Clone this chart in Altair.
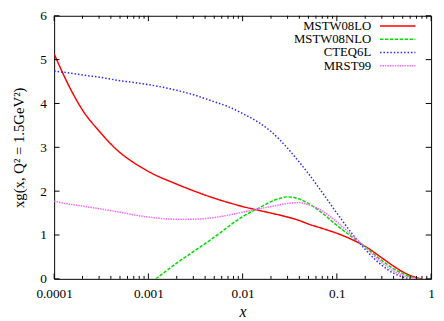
import altair as alt
import pandas as pd

# ---------------- data ----------------
names = ["MSTW08LO", "MSTW08NLO", "CTEQ6L", "MRST99"]
colors = ["#ff0000", "#00dd00", "#2626ff", "#ff66ff"]
dashes = [[1, 0], [3.5, 1.5], [1.5, 2.0], [1.5, 1.0]]

x_lo = [1e-4, 1.5e-4, 2e-4, 3e-4, 5e-4, 7e-4, 1e-3, 2e-3, 3e-3, 5e-3, 0.01, 0.02,
        0.03, 0.04, 0.05, 0.07, 0.1, 0.15, 0.2, 0.3, 0.4, 0.5, 0.6, 0.7, 0.8]
y_lo = [5.13, 4.32, 3.85, 3.37, 2.88, 2.65, 2.45, 2.16, 2.01, 1.84, 1.65, 1.50,
        1.41, 1.33, 1.25, 1.15, 1.04, 0.88, 0.74, 0.48, 0.29, 0.16, 0.08, 0.03, 0.0]

x_nlo = [0.0012, 0.002, 0.003, 0.005, 0.01, 0.015, 0.02, 0.025, 0.03, 0.04, 0.05, 0.07,
         0.1, 0.15, 0.2, 0.3, 0.4, 0.5, 0.6, 0.7, 0.75]
y_nlo = [0.0, 0.36, 0.62, 0.95, 1.42, 1.62, 1.76, 1.84, 1.87, 1.82, 1.72, 1.50,
         1.22, 0.93, 0.73, 0.42, 0.23, 0.12, 0.05, 0.01, 0.0]

x_cteq = [1e-4, 1.5e-4, 2e-4, 3e-4, 5e-4, 7e-4, 1e-3, 2e-3, 3e-3, 5e-3, 0.007, 0.01,
          0.015, 0.02, 0.03, 0.04, 0.05, 0.07, 0.1, 0.15, 0.2, 0.3, 0.4, 0.5, 0.6]
y_cteq = [4.74, 4.69, 4.65, 4.60, 4.52, 4.48, 4.43, 4.30, 4.20, 4.04, 3.93, 3.77,
          3.56, 3.36, 2.98, 2.66, 2.40, 1.97, 1.50, 0.99, 0.67, 0.31, 0.13, 0.04, 0.0]

x_mrst = [1e-4, 1.5e-4, 2e-4, 3e-4, 5e-4, 7e-4, 1e-3, 2e-3, 3e-3, 5e-3, 0.01, 0.02,
          0.03, 0.04, 0.05, 0.07, 0.1, 0.15, 0.2, 0.3, 0.4, 0.5, 0.6, 0.7]
y_mrst = [1.77, 1.70, 1.66, 1.60, 1.52, 1.46, 1.41, 1.36, 1.36, 1.40, 1.52, 1.65,
          1.72, 1.74, 1.69, 1.55, 1.30, 0.96, 0.72, 0.37, 0.18, 0.08, 0.03, 0.0]

x_ticks = [1e-4, 1e-3, 1e-2, 1e-1, 1.0]
x_minor = [m * d for d in [1e-4, 1e-3, 1e-2, 1e-1] for m in range(2, 10)]
y_ticks = [0, 1, 2, 3, 4, 5, 6]

series = [(names[0], x_lo, y_lo), (names[1], x_nlo, y_nlo),
          (names[2], x_cteq, y_cteq), (names[3], x_mrst, y_mrst)]
rows = []
for name, xs, ys in series:
    for i, (a, b) in enumerate(zip(xs, ys)):
        rows.append({"series": name, "x": a, "y": b, "order": i})
df = pd.DataFrame(rows)

# ---------------- chart ----------------
W, H = 384, 268
FONT = "'Liberation Serif', 'Times New Roman', 'DejaVu Serif', serif"
xscale = alt.Scale(type="log", domain=[1e-4, 1], nice=False)
yscale = alt.Scale(domain=[0, 6], nice=False)

xaxis = alt.Axis(values=x_ticks, format="~g", title="x", grid=False, ticks=False,
                 tickSize=0, domain=False, labelPadding=8, labelFontSize=13.5,
                 labelFont=FONT, labelColor="black", titleFont=FONT,
                 titleFontSize=16, titleFontStyle="italic", titleFontWeight="normal",
                 titleColor="black", titlePadding=4, labelFlush=False)
yaxis = alt.Axis(values=y_ticks, title="xg(x, Q² = 1.5GeV²)", grid=False, ticks=False,
                 tickSize=0, domain=False, labelPadding=8, labelFontSize=13.5,
                 labelFont=FONT, labelColor="black", titleFont=FONT,
                 titleFontSize=15, titleFontWeight="normal", titleColor="black",
                 titlePadding=13, labelFlush=False)

lines = alt.Chart(df).mark_line(strokeWidth=1.5, interpolate="monotone", clip=True).encode(
    x=alt.X("x:Q", scale=xscale, axis=xaxis),
    y=alt.Y("y:Q", scale=yscale, axis=yaxis),
    color=alt.Color("series:N", scale=alt.Scale(domain=names, range=colors), legend=None),
    strokeDash=alt.StrokeDash("series:N", scale=alt.Scale(domain=names, range=dashes), legend=None),
    order="order:Q",
)

xmaj = pd.DataFrame({"x": x_ticks})
xmin = pd.DataFrame({"x": x_minor})
ymaj = pd.DataFrame({"y": y_ticks})

def xrule(d, y0, y1):
    return alt.Chart(d).mark_rule(color="black", strokeWidth=1).encode(
        x=alt.X("x:Q", scale=xscale, axis=xaxis), y=alt.value(y0), y2=alt.value(y1))

def yrule(d, x0, x1):
    return alt.Chart(d).mark_rule(color="black", strokeWidth=1).encode(
        y=alt.Y("y:Q", scale=yscale, axis=yaxis), x=alt.value(x0), x2=alt.value(x1))

ticks = [
    xrule(xmaj, H, H - 5.5), xrule(xmaj, 0, 5.5),
    xrule(xmin, H, H - 3), xrule(xmin, 0, 3),
    yrule(ymaj, 0, 5.5), yrule(ymaj, W, W - 5.5),
]

# legend (top-right, labels left of samples)
leg_y = [10.3, 23.8, 37.3, 50.8]
legend_layers = []
for name, col, dash, yy in zip(names, colors, dashes, leg_y):
    legend_layers.append(
        alt.Chart(pd.DataFrame({"n": [name]})).mark_text(
            align="right", baseline="middle", font=FONT, fontSize=13, color="black"
        ).encode(text="n:N", x=alt.value(323), y=alt.value(yy)))
    legend_layers.append(
        alt.Chart(pd.DataFrame({"n": [name]})).mark_rule(
            color=col, strokeWidth=1.5, strokeDash=dash
        ).encode(x=alt.value(332), x2=alt.value(368), y=alt.value(yy)))

chart = alt.layer(lines, *ticks, *legend_layers).properties(
    width=W, height=H,
    autosize=alt.AutoSizeParams(type="none"),
    padding={"left": 47, "top": 5, "right": 5, "bottom": 40},
    background="white",
).configure_view(stroke="black", strokeWidth=1)

chart.save("out.html", embed_options={"renderer": "svg", "actions": False})
